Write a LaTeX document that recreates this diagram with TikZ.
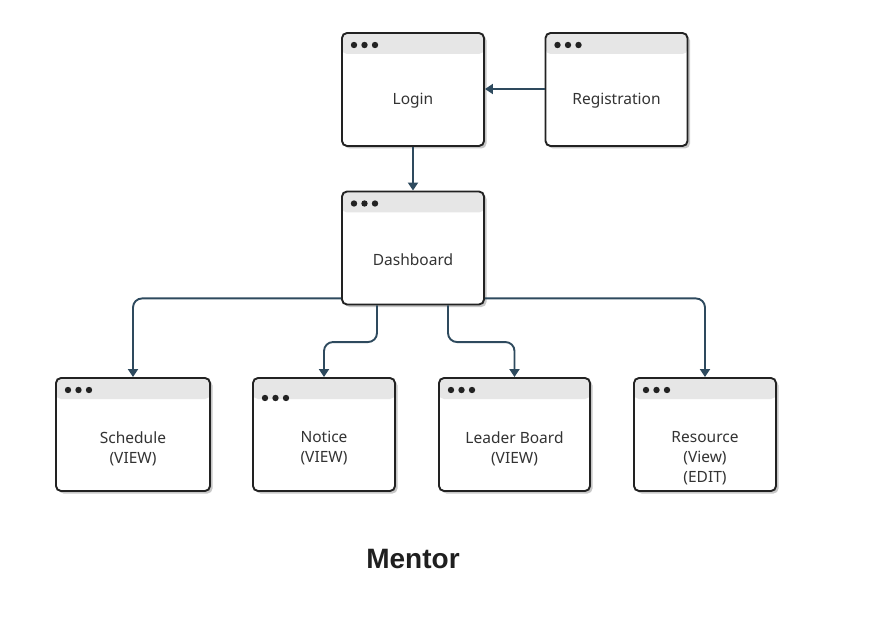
\documentclass[tikz,border=0pt]{standalone}
\usepackage{fontspec}
\setmainfont{Noto Sans}
\newfontfamily\titlefont{Liberation Sans}
\usetikzlibrary{arrows.meta,shadows}
\definecolor{linkblue}{HTML}{2E4A5E}
\definecolor{bargray}{HTML}{E6E6E6}
\definecolor{framegray}{HTML}{222222}
\definecolor{txtgray}{HTML}{333333}
\tikzset{
  dotsy/.store in=\dotsy, dotsy=12pt,
  window/.style={draw=framegray, line width=1.9pt, rounded corners=5pt, fill=white,
    minimum height=113pt, minimum width=142pt, inner sep=0pt,
    drop shadow={shadow xshift=2.5pt, shadow yshift=-2.5pt, fill=black, opacity=0.22},
    path picture={
      \fill[bargray] (path picture bounding box.north west) rectangle ([yshift=-21pt]path picture bounding box.north east);
      \foreach \i in {0,1,2}
        \fill[framegray] ([xshift=12pt+\i*10.5pt, yshift=-\dotsy]path picture bounding box.north west) circle (3.2pt);
    }},
  caption/.style={font=\fontsize{15.5}{20}\selectfont, text=txtgray, align=center},
  link/.style={draw=linkblue, line width=1.9pt, rounded corners=9pt, -{Triangle[length=8pt,width=10pt]}},
}
\begin{document}
\begin{tikzpicture}[x=1pt,y=-1pt]
    \useasboundingbox (0,0) rectangle (869,617);
    \node[window] (login) at (413,89.5) {};
    \node[caption] (login-t) at ([yshift=-11.5pt]login.center) {Login};
    \node[window] (reg) at (616.5,89.5) {};
    \node[caption] (reg-t) at ([yshift=-11.5pt]reg.center) {Registration};
    \node[window] (dash) at (413,248) {};
    \node[caption] (dash-t) at ([yshift=-11.5pt]dash.center) {Dashboard};
    \node[window, minimum width=154pt] (sched) at (133,434.5) {};
    \node[caption] (sched-t) at ([yshift=-14pt]sched.center) {Schedule\\(VIEW)};
    \node[window, dotsy=20pt] (notice) at (324,434.5) {};
    \node[caption] (notice-t) at ([yshift=-14pt]notice.center) {Notice\\(VIEW)};
    \node[window, minimum width=151pt] (board) at (514.5,434.5) {};
    \node[caption] (board-t) at ([yshift=-14pt]board.center) {Leader Board\\(VIEW)};
    \node[window] (res) at (705,434.5) {};
    \node[caption] (res-t) at ([yshift=-24pt]res.center) {Resource\\(View)\\(EDIT)};
    \draw[link] ([yshift=0.5pt]reg.west) -- ([yshift=0.5pt]login.east);
    \draw[link] (login.south) -- (dash.north);
    \draw[link] ([yshift=7pt]dash.south west) -| (sched.north);
    \draw[link] ([yshift=7pt]dash.south east) -| (res.north);
    \draw[link] ([xshift=-36pt]dash.south) |- ([yshift=35pt]notice.north) -- (notice.north);
    \draw[link] ([xshift=35pt]dash.south) |- ([yshift=35pt]board.north) -- (board.north);
    \node[font={\titlefont\bfseries\fontsize{28}{32}\selectfont}, text=black!88] (title) at (413,559) {Mentor};
\end{tikzpicture}
\end{document}
